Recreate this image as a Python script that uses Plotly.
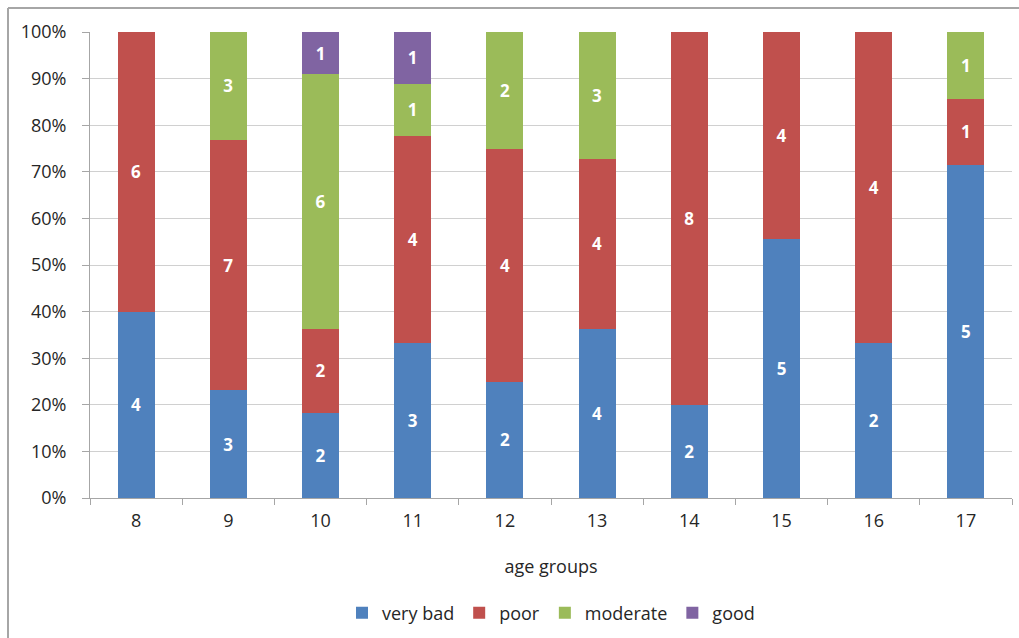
import plotly.graph_objects as go

age_groups = ["8", "9", "10", "11", "12", "13", "14", "15", "16", "17"]
very_bad = [4, 3, 2, 3, 2, 4, 2, 5, 2, 5]
poor = [6, 7, 2, 4, 4, 4, 8, 4, 4, 1]
moderate = [None, 3, 6, 1, 2, 3, None, None, None, 1]
good = [None, None, 1, 1, None, None, None, None, None, None]

series = [
    ("very bad", very_bad, "#4f81bd"),
    ("poor", poor, "#c0504d"),
    ("moderate", moderate, "#9bbb59"),
    ("good", good, "#8064a2"),
]

font_family = "Open Sans, Noto Sans, sans-serif"

fig = go.Figure()
for name, values, color in series:
    fig.add_trace(go.Bar(
        x=age_groups,
        y=values,
        name=name,
        marker=dict(color=color, line=dict(width=0)),
        text=[str(v) if v else "" for v in values],
        textposition="inside",
        insidetextanchor="middle",
        textangle=0,
        constraintext="none",
        textfont=dict(color="white", size=17, family=font_family, weight="bold"),
        width=0.4,
    ))

fig.update_layout(
    barmode="stack",
    barnorm="percent",
    width=1019,
    height=638,
    margin=dict(l=90, r=7, t=32, b=140),
    paper_bgcolor="white",
    plot_bgcolor="white",
    font=dict(family=font_family, size=18, color="#262626"),
    legend=dict(
        orientation="h",
        x=0.5,
        xanchor="center",
        y=-0.247,
        yanchor="middle",
        font=dict(size=18),
        traceorder="normal",
        itemwidth=30,
    ),
    xaxis=dict(
        type="category",
        tickson="boundaries",
        ticks="outside",
        ticklen=6,
        tickcolor="#a6a6a6",
        ticklabelstandoff=6,
        showline=True,
        linecolor="#a6a6a6",
        linewidth=1,
        showgrid=False,
        title=dict(text="age groups", standoff=29, font=dict(size=18)),
    ),
    yaxis=dict(
        range=[0, 100],
        dtick=10,
        ticksuffix="%",
        ticks="outside",
        ticklen=7,
        tickcolor="#a6a6a6",
        ticklabelstandoff=12,
        showline=True,
        linecolor="#a6a6a6",
        linewidth=1,
        gridcolor="#d0d0d0",
        gridwidth=1,
        zeroline=False,
    ),
    shapes=[
        dict(type="line", xref="paper", yref="paper",
             x0=(8 - 90) / 922, x1=1.05, y0=1 + 24 / 466, y1=1 + 24 / 466,
             line=dict(color="#a6a6a6", width=2)),
        dict(type="line", xref="paper", yref="paper",
             x0=(8 - 90) / 922, x1=(8 - 90) / 922, y0=1 + 24 / 466, y1=-0.35,
             line=dict(color="#a6a6a6", width=2)),
    ],
)

fig.write_html("out.html")
